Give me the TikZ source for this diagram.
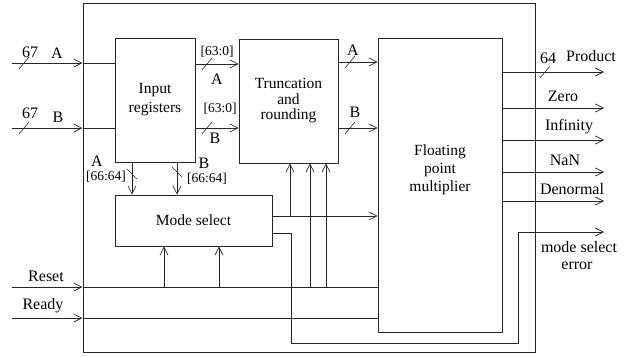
\documentclass[tikz,border=0pt]{standalone}
\usepackage{fontspec}
\setmainfont{Liberation Serif}
\usetikzlibrary{arrows.meta}
\begin{document}
\begin{tikzpicture}[x=1pt,y=-1pt,
  wire/.style={line width=0.7pt,draw=black!85},
  arr/.style={wire,-{Straight Barb[length=8pt,width=8pt,line width=0.7pt]}},
  block/.style={draw=black!85,line width=0.8pt,rectangle,inner sep=0pt,align=center,font=\fontsize{15.5}{18}\selectfont},
  lbl/.style={inner sep=0pt,font=\fontsize{16}{18}\selectfont},
  slbl/.style={inner sep=0pt,font=\fontsize{13.5}{15}\selectfont},
  hslash/.style={wire,line width=0.6pt},
]
\useasboundingbox (0,0) rectangle (644,356);
% outer frame
\node[block,line width=1pt,minimum width=452pt,minimum height=349pt] (outer) at (309,177.5) {};
% blocks
\node[block,minimum width=80pt,minimum height=124pt] (ir) at (155,100) {Input\\[1pt]registers};
\node[block,minimum width=99pt,minimum height=124pt,font=\fontsize{15.5}{15.5}\selectfont] (tr) at (288.5,101) {Truncation\\and\\rounding};
\node[block,minimum width=124pt,minimum height=294pt] (fpm) at (440,185) {};
\node[lbl,align=center,font=\fontsize{15.5}{18}\selectfont] (fpmtext) at (440,170) {Floating\\point\\multiplier};
\node[block,minimum width=157pt,minimum height=51pt] (ms) at (193.5,220.5) {Mode select};

% input coordinates
\coordinate (inA) at (12,63);
\coordinate (inB) at (12,128);
\coordinate (inR) at (12,287);
\coordinate (inD) at (12,318);
\coordinate (eA) at (outer.west|-inA);
\coordinate (eB) at (outer.west|-inB);
\coordinate (eR) at (outer.west|-inR);
\coordinate (eD) at (outer.west|-inD);

\draw[arr] (inA) -- (eA);
\draw[wire] (eA) -- (ir.west|-eA);
\draw[arr] (inB) -- (eB);
\draw[wire] (eB) -- (ir.west|-eB);
\draw[arr] (inR) -- (eR);
\draw[wire] (eR) -- (fpm.west|-eR);
\draw[arr] (inD) -- (eD);
\draw[wire] (eD) -- (fpm.west|-eD);

% IR -> truncation
\coordinate (ira) at (ir.east|-0,64);
\coordinate (irb) at (ir.east|-0,128);
\draw[arr] (ira) -- (tr.west|-ira);
\draw[arr] (irb) -- (tr.west|-irb);
% truncation -> FPM
\coordinate (tra) at (tr.east|-0,62);
\coordinate (trb) at (tr.east|-0,128);
\draw[arr] (tra) -- (fpm.west|-tra);
\draw[arr] (trb) -- (fpm.west|-trb);
% IR -> mode select
\coordinate (ima) at (132,0);
\coordinate (imb) at (177,0);
\draw[arr] (ir.south-|ima) -- (ms.north-|ima);
\draw[arr] (ir.south-|imb) -- (ms.north-|imb);
% mode select -> FPM
\coordinate (mo) at (ms.east|-0,216);
\draw[arr] (mo) -- (fpm.west|-mo);
\coordinate (mt) at (290,216);
\draw[arr] (mt) -- (tr.south-|mt);
% reset -> mode select and truncation
\coordinate (r1) at (164,287);
\coordinate (r2) at (219,287);
\coordinate (r3) at (310,287);
\coordinate (r4) at (326,287);
\draw[arr] (r1) -- (ms.south-|r1);
\draw[arr] (r2) -- (ms.south-|r2);
\draw[arr] (r3) -- (tr.south-|r3);
\draw[arr] (r4) -- (tr.south-|r4);
% mode select error
\coordinate (me0) at (ms.east|-0,233);
\coordinate (meEnd) at (604,232);
\draw[arr] (me0) -- (291,233) -- (291,343) -- (518,343) -- (518,232) -- (meEnd);
% outputs
\coordinate (oP) at (604,72);
\coordinate (oZ) at (604,108);
\coordinate (oI) at (604,140);
\coordinate (oN) at (604,172);
\coordinate (oD) at (604,201);
\draw[arr] (fpm.east|-oP) -- (oP);
\draw[arr] (fpm.east|-oZ) -- (oZ);
\draw[arr] (fpm.east|-oI) -- (oI);
\draw[arr] (fpm.east|-oN) -- (oN);
\draw[arr] (fpm.east|-oD) -- (oD);

% bus slashes
\foreach \p in {(24,63),(24,128),(207,64),(207,128),(350,62),(350,128),(545,72)}
  \draw[hslash] \p ++(-5,6) -- ++(10,-12);
\foreach \p in {(132,174),(177,172)}
  \draw[hslash] \p ++(-5,-5) -- ++(10,10);

% labels
\node[lbl] (l67a) at (30,52) {67};
\node[lbl] (lA) at (57,53) {A};
\node[lbl] (l67b) at (30,113) {67};
\node[lbl] (lB) at (58,117) {B};
\node[slbl] (l63a) at (217,52) {[63:0]};
\node[lbl] (lA2) at (217,79) {A};
\node[slbl] (l63b) at (220,109) {[63:0]};
\node[lbl] (lB2) at (215,138) {B};
\node[lbl] (lA3) at (353,50) {A};
\node[lbl] (lB3) at (355,112) {B};
\node[lbl] (lA4) at (97,161) {A};
\node[slbl] (l66a) at (106,176.5) {[66:64]};
\node[lbl] (lB4) at (204,163) {B};
\node[slbl] (l66b) at (207,179) {[66:64]};
\node[lbl] (l64) at (548,58) {64};
\node[lbl] (lProd) at (591,56) {Product};
\node[lbl] (lZero) at (563,96) {Zero};
\node[lbl] (lInf) at (569,127) {Infinity};
\node[lbl] (lNaN) at (565,160) {NaN};
\node[lbl] (lDen) at (572,189) {Denormal};
\node[lbl] (lmse) at (579,247) {mode select};
\node[lbl] (lerr) at (577,266) {error};
\node[lbl] (lReset) at (46,276) {Reset};
\node[lbl] (lReady) at (43,306) {Ready};
\end{tikzpicture}
\end{document}
